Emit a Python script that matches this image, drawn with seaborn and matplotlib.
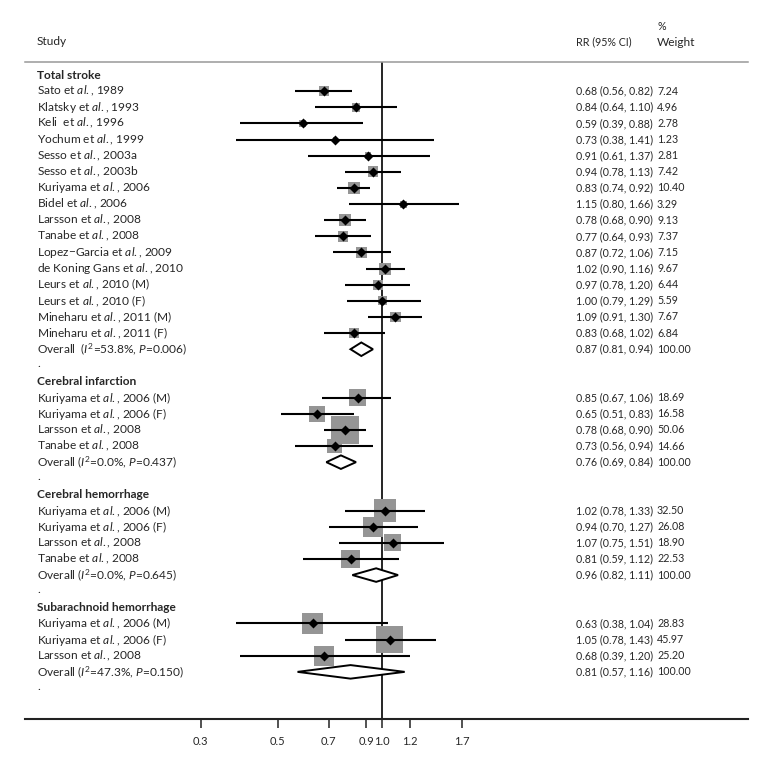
import matplotlib
matplotlib.use('Agg')
import matplotlib.pyplot as plt
import seaborn as sns
import pandas as pd
import numpy as np
from matplotlib.patches import Polygon
from matplotlib.transforms import blended_transform_factory

# ── Data ─────────────────────────────────────────────────────────────────────
GROUPS = ['Total stroke', 'Cerebral infarction', 'Cerebral hemorrhage', 'Subarachnoid hemorrhage']

STUDIES = [
    ['Sato et $\\mathit{al.}$, 1989', 'Klatsky et $\\mathit{al.}$, 1993', 'Keli  et $\\mathit{al.}$, 1996',
     'Yochum et $\\mathit{al.}$, 1999', 'Sesso et $\\mathit{al.}$, 2003a', 'Sesso et $\\mathit{al.}$, 2003b',
     'Kuriyama et $\\mathit{al.}$, 2006', 'Bidel et $\\mathit{al.}$, 2006', 'Larsson et $\\mathit{al.}$, 2008',
     'Tanabe et $\\mathit{al.}$, 2008', 'Lopez\u2212Garcia et $\\mathit{al.}$, 2009',
     'de Koning Gans et $\\mathit{al.}$, 2010', 'Leurs et $\\mathit{al.}$, 2010 (M)',
     'Leurs et $\\mathit{al.}$, 2010 (F)', 'Mineharu et $\\mathit{al.}$, 2011 (M)',
     'Mineharu et $\\mathit{al.}$, 2011 (F)'],
    ['Kuriyama et $\\mathit{al.}$, 2006 (M)', 'Kuriyama et $\\mathit{al.}$, 2006 (F)',
     'Larsson et $\\mathit{al.}$, 2008', 'Tanabe et $\\mathit{al.}$, 2008'],
    ['Kuriyama et $\\mathit{al.}$, 2006 (M)', 'Kuriyama et $\\mathit{al.}$, 2006 (F)',
     'Larsson et $\\mathit{al.}$, 2008', 'Tanabe et $\\mathit{al.}$, 2008'],
    ['Kuriyama et $\\mathit{al.}$, 2006 (M)', 'Kuriyama et $\\mathit{al.}$, 2006 (F)',
     'Larsson et $\\mathit{al.}$, 2008'],
]
RR = [
    [0.68, 0.84, 0.59, 0.73, 0.91, 0.94, 0.83, 1.15, 0.78, 0.77, 0.87, 1.02, 0.97, 1.00, 1.09, 0.83],
    [0.85, 0.65, 0.78, 0.73],
    [1.02, 0.94, 1.07, 0.81],
    [0.63, 1.05, 0.68],
]
LO = [
    [0.56, 0.64, 0.39, 0.38, 0.61, 0.78, 0.74, 0.80, 0.68, 0.64, 0.72, 0.90, 0.78, 0.79, 0.91, 0.68],
    [0.67, 0.51, 0.68, 0.56],
    [0.78, 0.70, 0.75, 0.59],
    [0.38, 0.78, 0.39],
]
HI = [
    [0.82, 1.10, 0.88, 1.41, 1.37, 1.13, 0.92, 1.66, 0.90, 0.93, 1.06, 1.16, 1.20, 1.29, 1.30, 1.02],
    [1.06, 0.83, 0.90, 0.94],
    [1.33, 1.27, 1.51, 1.12],
    [1.04, 1.43, 1.20],
]
WEIGHT = [
    [7.24, 4.96, 2.78, 1.23, 2.81, 7.42, 10.40, 3.29, 9.13, 7.37, 7.15, 9.67, 6.44, 5.59, 7.67, 6.84],
    [18.69, 16.58, 50.06, 14.66],
    [32.50, 26.08, 18.90, 22.53],
    [28.83, 45.97, 25.20],
]
POOLED_RR = [0.87, 0.76, 0.96, 0.81]
POOLED_LO = [0.81, 0.69, 0.82, 0.57]
POOLED_HI = [0.94, 0.84, 1.11, 1.16]
I2 = ['53.8%', '0.0%', '0.0%', '47.3%']
P_HET = ['0.006', '0.437', '0.645', '0.150']
OVERALL_SEP = ['  ', ' ', ' ', ' ']

XTICKS = [0.3, 0.5, 0.7, 0.9, 1.0, 1.2, 1.7]
XTICKLABELS = ['0.3', '0.5', '0.7', '0.9', '1.0', '1.2', '1.7']

FONT = 'Lato'
FS = 8.6       # study labels
FS_NUM = 7.7   # numeric columns (Lato digits run wider than the original's)


def setup_style():
    sns.set_theme(style='white')
    plt.rcParams.update({
        'font.family': [FONT, 'DejaVu Sans'],
        'font.size': FS,
        'mathtext.fontset': 'custom',
        'mathtext.rm': FONT,
        'mathtext.it': FONT + ':italic',
        'mathtext.bf': FONT + ':bold',
        'figure.facecolor': 'white', 'axes.facecolor': 'white',
    })


def build_rows():
    """Lay out the table: header, studies, overall, spacer dot per subgroup."""
    studies, pooled, headers, dots = [], [], [], []
    row = 0
    for g, name in enumerate(GROUPS):
        headers.append((row, name))
        row += 1
        for lab, rr, lo, hi, w in zip(STUDIES[g], RR[g], LO[g], HI[g], WEIGHT[g]):
            studies.append(dict(row=row, label=lab, rr=rr, lo=lo, hi=hi, weight=w))
            row += 1
        pooled.append(dict(row=row, rr=POOLED_RR[g], lo=POOLED_LO[g], hi=POOLED_HI[g],
                           label=f'Overall{OVERALL_SEP[g]}($\\mathit{{I}}^2$={I2[g]}, $\\mathit{{P}}$={P_HET[g]})'))
        row += 1
        dots.append(row)
        row += 1
    return pd.DataFrame(studies), pd.DataFrame(pooled), headers, dots


def main():
    setup_style()
    df, pooled, headers, dots = build_rows()

    W, H = 780, 763
    fig = plt.figure(figsize=(W / 100, H / 100), dpi=100)
    # axes spans the grey header rule (px 62) down to the x-axis (px 718.7)
    ax = fig.add_axes([25 / W, (H - 718.7) / H, 723 / W, (718.7 - 62) / H])

    px_per_row = 16.13
    top_row = (62 - 75) / px_per_row
    bot_row = 38 + (718.7 - 688) / px_per_row
    ax.set_xscale('log')
    # 1.0 sits at px 382.3, 150.8 px per ln-unit
    ax.set_xlim(np.exp((25 - 382.3) / 150.8), np.exp((748 - 382.3) / 150.8))
    ax.set_ylim(bot_row, top_row)

    # weight boxes (area ~ weight), CI lines, point estimates
    box_pts = 3.9 * np.sqrt(df['weight'].to_numpy()) * 72 / 100
    sns.scatterplot(data=df, x='rr', y='row', marker='s', s=box_pts ** 2,
                    color='#959595', linewidth=0, ax=ax, zorder=2, legend=False)
    ax.hlines(df['row'], df['lo'], df['hi'], color='black', linewidth=1.5, zorder=3)
    sns.scatterplot(data=df, x='rr', y='row', marker='D', s=26, color='black',
                    linewidth=0, ax=ax, zorder=4, legend=False)

    # pooled diamonds
    h = 0.42
    for _, r in pooled.iterrows():
        ax.add_patch(Polygon([(r.lo, r.row), (r.rr, r.row - h), (r.hi, r.row), (r.rr, r.row + h)],
                             closed=True, facecolor='white', edgecolor='black', linewidth=1.4, zorder=4))

    ax.axvline(1.0, color='black', linewidth=1.2, zorder=1)

    # axes cosmetics
    ax.grid(False)
    ax.set_xticks(XTICKS)
    ax.set_xticklabels(XTICKLABELS)
    ax.xaxis.set_minor_locator(matplotlib.ticker.NullLocator())
    ax.set_yticks([])
    ax.set_xlabel('')
    ax.set_ylabel('')
    ax.tick_params(axis='x', bottom=True, direction='out', length=6.5, width=1.1,
                   color='#222222', pad=6, labelsize=8.0)
    for s in ('left', 'right'):
        ax.spines[s].set_visible(False)
    ax.spines['bottom'].set_color('#222222')
    ax.spines['bottom'].set_linewidth(1.5)
    ax.spines['top'].set_color('#999999')
    ax.spines['top'].set_linewidth(1.1)

    # text columns
    tr = blended_transform_factory(ax.transAxes, ax.transData)
    x_study, x_rr, x_w = (37 - 25) / 723, (576 - 25) / 723, (657 - 25) / 723
    txt = dict(transform=tr, va='center', ha='left', fontsize=FS, clip_on=False)
    num = dict(txt, fontsize=FS_NUM)

    ax.text(x_study, (42 - 75) / px_per_row, 'Study', **txt)
    ax.text(x_rr, (42 - 75) / px_per_row, 'RR (95% CI)', **num)
    ax.text(x_w, (27 - 75) / px_per_row, '%', **num)
    ax.text(x_w, (43 - 75) / px_per_row, 'Weight', **txt)

    for row, name in headers:
        ax.text(x_study, row, name, fontweight='bold', **txt)
    for _, r in df.iterrows():
        ax.text(x_study, r.row, r.label, **txt)
        ax.text(x_rr, r.row, f'{r.rr:.2f} ({r.lo:.2f}, {r.hi:.2f})', **num)
        ax.text(x_w, r.row, f'{r.weight:.2f}', **num)
    for _, r in pooled.iterrows():
        ax.text(x_study, r.row, r.label, **txt)
        ax.text(x_rr, r.row, f'{r.rr:.2f} ({r.lo:.2f}, {r.hi:.2f})', **num)
        ax.text(x_w, r.row, '100.00', **num)
    for row in dots:
        ax.text(x_study, row - 0.1, '.', **txt)

    fig.savefig('out.png', dpi=100)
    plt.close(fig)


if __name__ == '__main__':
    main()
